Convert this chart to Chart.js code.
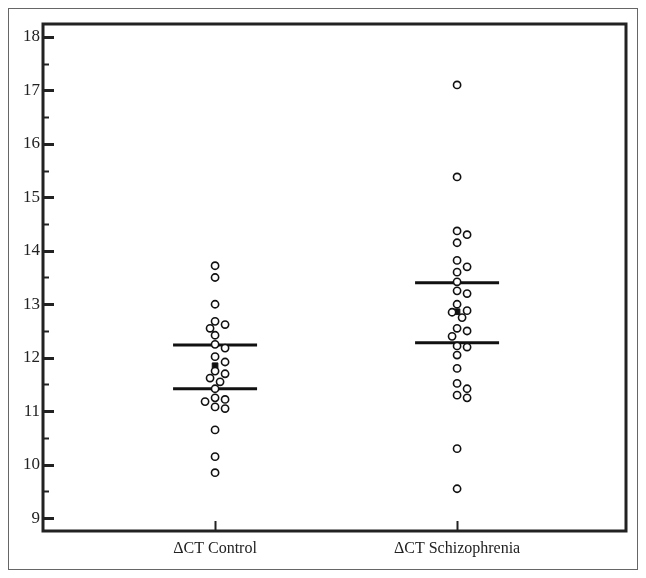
<!DOCTYPE html>
<html>
<head>
<meta charset="utf-8">
<script src="https://cdn.jsdelivr.net/npm/chart.js@4.4.1/dist/chart.umd.min.js"></script>
<style>
  html, body { margin: 0; padding: 0; background: #fff; }
  #wrap { width: 646px; height: 578px; }
</style>
</head>
<body>
<div id="wrap"><canvas id="grafico_ct"></canvas></div>
<script>
/* Dados do gráfico de dispersão (ΔCT controle vs esquizofrenia) */

const categorias = ['\u0394CT Control', '\u0394CT Schizophrenia'];

const valores_controle = [13.72, 13.5, 13.0, 12.68, 12.62, 12.55, 12.42, 12.25, 12.18, 12.02,
    11.92, 11.75, 11.7, 11.62, 11.55, 11.42, 11.25, 11.22, 11.18, 11.08, 11.05, 10.65, 10.15, 9.85];

const valores_esquizofrenia = [17.1, 15.38, 14.37, 14.3, 14.15, 13.82, 13.7, 13.6, 13.42, 13.25,
    13.2, 13.0, 12.88, 12.85, 12.75, 12.55, 12.5, 12.4, 12.22, 12.2, 12.05, 11.8, 11.52, 11.42,
    11.3, 11.25, 10.3, 9.55];

const medias = [11.85, 12.86];
const limite_superior = [12.24, 13.4];
const limite_inferior = [11.42, 12.28];

const ticks_y = [9, 10, 11, 12, 13, 14, 15, 16, 17, 18];

/* espalha os pontos lado a lado (beeswarm simples) para não se sobreporem */
function espalhar(valores, grupo) {
    const pxY = 53.7, pxX = 242, diam = 8.5;
    const colocados = [];
    const ordenados = valores.slice().sort((a, b) => b - a);
    return ordenados.map(v => {
        let off = 0;
        for (let k = 0; k < 20; k++) {
            const cand = k === 0 ? 0 : (k % 2 ? 1 : -1) * Math.ceil(k / 2) * 5;
            const ok = colocados.every(p => Math.hypot(p.dx - cand, (p.v - v) * pxY) >= diam);
            if (ok) { off = cand; break; }
        }
        colocados.push({ v: v, dx: off });
        return { x: grupo + off / pxX, y: v };
    });
}

const pontos_controle = espalhar(valores_controle, 1);
const pontos_esquizofrenia = espalhar(valores_esquizofrenia, 2);

const fonte = 'Liberation Serif, Times New Roman, serif';

/* moldura, ticks internos e borda externa */
const moldura = {
    id: 'moldura',
    beforeDraw(chart) {
        const ctx = chart.ctx;
        ctx.save();
        ctx.fillStyle = '#fff';
        ctx.fillRect(0, 0, chart.width, chart.height);
        ctx.strokeStyle = '#666';
        ctx.lineWidth = 1;
        ctx.strokeRect(8.5, 8.5, 629, 561);
        ctx.restore();
    },
    afterDraw(chart) {
        const ctx = chart.ctx;
        const a = chart.chartArea;
        const y = chart.scales.y, x = chart.scales.x;
        ctx.save();
        ctx.strokeStyle = '#222';
        ctx.lineWidth = 3;
        ctx.beginPath();
        ctx.moveTo(a.left, a.top);
        ctx.lineTo(a.right, a.top);
        ctx.lineTo(a.right, a.bottom);
        ctx.lineTo(a.left, a.bottom);
        ctx.closePath();
        ctx.stroke();
        // ticks do eixo y voltados para dentro
        ticks_y.forEach(v => {
            const py = Math.round(y.getPixelForValue(v)) + 0.5;
            ctx.lineWidth = 3;
            ctx.beginPath();
            ctx.moveTo(a.left, py);
            ctx.lineTo(a.left + 11, py);
            ctx.stroke();
            const pm = Math.round(y.getPixelForValue(v + 0.5)) + 0.5;
            if (v + 0.5 < y.max) {
                ctx.lineWidth = 2;
                ctx.beginPath();
                ctx.moveTo(a.left, pm);
                ctx.lineTo(a.left + 6, pm);
                ctx.stroke();
            }
        });
        // ticks do eixo x
        [1, 2].forEach(v => {
            const px = Math.round(x.getPixelForValue(v)) + 0.5;
            ctx.lineWidth = 2;
            ctx.beginPath();
            ctx.moveTo(px, a.bottom);
            ctx.lineTo(px, a.bottom - 10);
            ctx.stroke();
        });
        ctx.restore();
    }
};

const data_ct = {
    datasets: [
        {
            label: categorias[0],
            data: pontos_controle,
            pointStyle: 'circle',
            pointRadius: 3.6,
            borderWidth: 1.6,
            borderColor: '#111',
            backgroundColor: '#fff'
        },
        {
            label: categorias[1],
            data: pontos_esquizofrenia,
            pointStyle: 'circle',
            pointRadius: 3.6,
            borderWidth: 1.6,
            borderColor: '#111',
            backgroundColor: '#fff'
        },
        {
            label: 'limites',
            data: limite_superior.map((v, i) => ({ x: i + 1, y: v }))
                .concat(limite_inferior.map((v, i) => ({ x: i + 1, y: v }))),
            pointStyle: 'line',
            pointRadius: 42,
            borderWidth: 3,
            borderColor: '#111'
        },
        {
            label: 'media',
            data: medias.map((v, i) => ({ x: i + 1, y: v })),
            pointStyle: 'rect',
            pointRadius: 4,
            borderWidth: 1,
            borderColor: '#111',
            backgroundColor: '#111'
        }
    ]
};

const config_ct = {
    type: 'scatter',
    data: data_ct,
    plugins: [moldura],
    options: {
        responsive: false,
        animation: false,
        events: [],
        layout: { autoPadding: false, padding: { left: 0, top: 24, right: 20, bottom: 0 } },
        plugins: { legend: { display: false }, tooltip: { enabled: false } },
        scales: {
            x: {
                type: 'linear',
                min: 0.289,
                max: 2.698,
                grid: { display: false, drawTicks: false },
                border: { display: false },
                afterBuildTicks: s => { s.ticks = [{ value: 1 }, { value: 2 }]; },
                afterFit: s => { s.height = 47; },
                ticks: {
                    padding: 8,
                    color: '#222',
                    font: { family: fonte, size: 16 },
                    callback: v => categorias[v - 1]
                }
            },
            y: {
                min: 8.76,
                max: 18.24,
                grid: { display: false, drawTicks: false },
                border: { display: false },
                afterBuildTicks: s => { s.ticks = ticks_y.map(v => ({ value: v })); },
                afterFit: s => { s.width = 43; },
                ticks: {
                    padding: 3,
                    color: '#222',
                    font: { family: fonte, size: 17 }
                }
            }
        }
    }
};

const canvas_ct = document.getElementById('grafico_ct');
canvas_ct.width = 646;
canvas_ct.height = 578;
const grafico_ct = new Chart(canvas_ct, config_ct);
</script>
</body>
</html>
